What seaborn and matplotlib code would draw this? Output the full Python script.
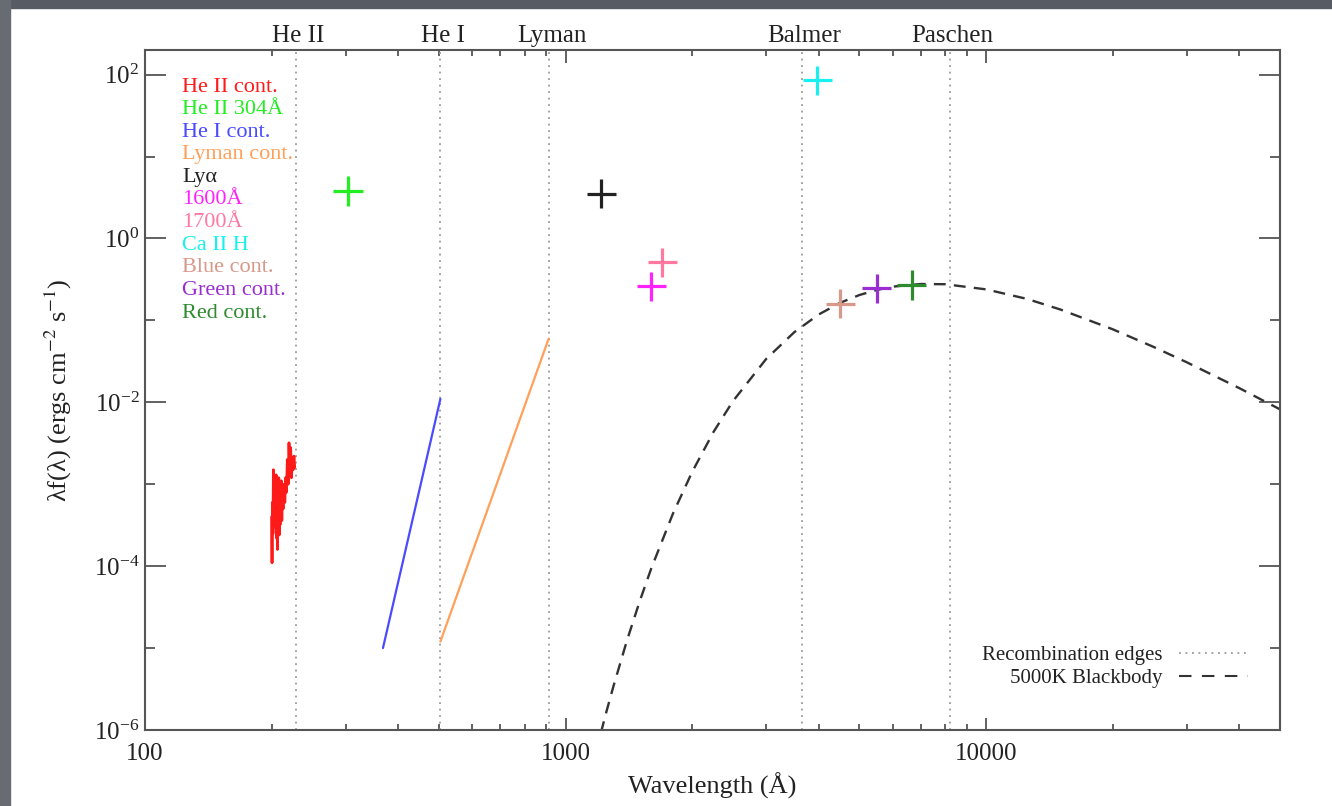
import numpy as np
import pandas as pd
import matplotlib
matplotlib.use("Agg")
import matplotlib.pyplot as plt
import seaborn as sns
from matplotlib.ticker import FixedLocator, LogLocator, NullFormatter, FuncFormatter, LogFormatterMathtext
from matplotlib.lines import Line2D
from matplotlib.patches import Rectangle

# ---------------- data ----------------
edge_names = ["He II", "He I", "Lyman", "Balmer", "Paschen"]
edge_wl = [228, 504, 912, 3646, 8204]

heii_cont_wl = [200.0, 200.5, 201.0, 201.5, 202.0, 202.5, 203.0, 203.5, 204.0, 204.5,
                205.0, 205.5, 206.0, 206.5, 207.0, 207.5, 208.0, 208.5, 209.0, 209.5,
                210.0, 210.5, 211.0, 211.5, 212.0, 213.0, 214.0, 215.0, 216.0, 217.0,
                218.0, 219.0, 220.0, 221.0, 222.0, 223.0, 224.0, 225.0, 226.0, 227.0]
heii_cont_flux = [4.0e-4, 1.1e-4, 6.0e-4, 2.5e-4, 1.5e-3, 3.0e-4, 8.0e-4, 4.0e-4, 1.0e-3, 3.5e-4,
                  1.3e-3, 2.2e-4, 6.0e-4, 1.6e-4, 9.0e-4, 3.0e-4, 1.2e-3, 2.4e-4, 7.0e-4, 3.2e-4,
                  9.0e-4, 4.0e-4, 1.1e-3, 3.6e-4, 8.0e-4, 5.0e-4, 1.0e-3, 6.0e-4, 1.2e-3, 8.0e-4,
                  2.0e-3, 1.0e-3, 3.2e-3, 1.4e-3, 2.8e-3, 1.2e-3, 2.0e-3, 1.5e-3, 2.2e-3, 1.6e-3]

hei_cont_wl = [368, 504]
hei_cont_flux = [1.0e-5, 1.1e-2]

lyman_cont_wl = [504, 912]
lyman_cont_flux = [1.2e-5, 6.0e-2]

point_names = ["He II 304Å", "Lyα", "1600Å", "1700Å", "Ca II H",
               "Blue cont.", "Green cont.", "Red cont."]
point_wl = [304, 1216, 1600, 1700, 3968, 4500, 5500, 6650]
point_flux = [3.8, 3.5, 0.26, 0.51, 85.0, 0.16, 0.245, 0.27]

bb_wl = [1150, 1200, 1250, 1300, 1400, 1500, 1600, 1800, 2000, 2250, 2500, 3000,
         3500, 4000, 4500, 5000, 5500, 6000, 7000, 8000, 10000, 12500, 15000,
         20000, 25000, 30000, 40000, 50000]
bb_flux = [3.1e-7, 7.4e-7, 1.65e-6, 3.42e-6, 1.24e-5, 3.69e-5, 9.46e-5, 4.36e-4,
           1.41e-3, 4.37e-3, 1.03e-2, 3.38e-2, 7.18e-2, 0.118, 0.164, 0.204, 0.235,
           0.258, 0.278, 0.276, 0.239, 0.183, 0.136, 0.0779, 0.0475, 0.0308, 0.0149, 0.0082]

label_names = ["He II cont.", "He II 304Å", "He I cont.", "Lyman cont.", "Lyα", "1600Å",
               "1700Å", "Ca II H", "Blue cont.", "Green cont.", "Red cont."]
label_colors = ["#ff1a1a", "#22ee22", "#4a4aff", "#ffa05a", "#222222", "#ff22ff",
                "#ff78a0", "#18f0f0", "#d8988a", "#9a2ed0", "#2e8b2e"]
color_of = dict(zip(label_names, label_colors))

# ---------------- style ----------------
sns.set_theme(style="ticks")
plt.rcParams["font.family"] = ["Liberation Serif", "DejaVu Serif"]
plt.rcParams["mathtext.fontset"] = "stix"

fig = plt.figure(figsize=(13.32, 8.06), dpi=100)
fig.patch.set_facecolor("white")
W, H = 1332, 806
fig.add_artist(Rectangle((0, 1 - 8 / H), 1, 8 / H, transform=fig.transFigure,
                         color="#575c64", zorder=0))
fig.add_artist(Rectangle((0, 0), 10 / W, 1, transform=fig.transFigure,
                         color="#676b72", zorder=0))

ax = fig.add_axes([145 / W, 1 - 730 / H, (1280 - 145) / W, (730 - 50) / H])
ax.set_facecolor("white")
ax.set_xscale("log")
ax.set_yscale("log")

# recombination edges
for wl, name in zip(edge_wl, edge_names):
    ax.axvline(wl, color="#9a9a9a", lw=1.3, ls=(0, (1, 2.6)), zorder=1)
    ax.text(wl * 1.015, 1.004, name, transform=ax.get_xaxis_transform(), ha="center",
            va="bottom", fontsize=18, color="#222222")

# blackbody
sns.lineplot(x=bb_wl, y=bb_flux, ax=ax, color="#333333", lw=1.7,
             linestyle=(0, (5, 3.5)), estimator=None, sort=False, zorder=2)

# continua
sns.lineplot(x=heii_cont_wl, y=heii_cont_flux, ax=ax, color=color_of["He II cont."],
             lw=2.0, estimator=None, sort=False, zorder=3)
sns.lineplot(x=hei_cont_wl, y=hei_cont_flux, ax=ax, color=color_of["He I cont."],
             lw=1.6, estimator=None, sort=False, zorder=3)
sns.lineplot(x=lyman_cont_wl, y=lyman_cont_flux, ax=ax, color=color_of["Lyman cont."],
             lw=1.6, estimator=None, sort=False, zorder=3)

# points
pts = pd.DataFrame({"name": point_names, "wl": point_wl, "flux": point_flux})
sns.scatterplot(data=pts, x="wl", y="flux", hue="name",
                palette={n: color_of[n] for n in point_names},
                marker="+", s=440, linewidth=2.3, legend=False, ax=ax, zorder=4)

# colored labels list
for i, (name, col) in enumerate(zip(label_names, label_colors)):
    ax.text((182 - 145) / 1135, 1 - (87 - 50 + i * 22.6) / 680, name,
            transform=ax.transAxes, ha="left", va="center", fontsize=16, color=col)

ax.set_xlim(100, 50000)
ax.set_ylim(1e-6, 10 ** 2.3)

ax.xaxis.set_major_locator(FixedLocator([100, 1000, 10000]))
ax.xaxis.set_minor_locator(LogLocator(base=10, subs=np.arange(2, 10)))
ax.xaxis.set_major_formatter(FuncFormatter(lambda v, p: f"{v:.0f}"))
ax.xaxis.set_minor_formatter(NullFormatter())
ax.yaxis.set_major_locator(FixedLocator([1e-6, 1e-4, 1e-2, 1e0, 1e2]))
ax.yaxis.set_minor_locator(FixedLocator([1e-5, 1e-3, 1e-1, 1e1]))
ax.yaxis.set_major_formatter(LogFormatterMathtext())
ax.yaxis.set_minor_formatter(NullFormatter())

ax.tick_params(which="both", direction="in", top=True, right=True, width=1.3,
               color="#555555", labelsize=18, labelcolor="#222222")
ax.tick_params(axis="x", which="major", length=9, pad=9)
ax.tick_params(axis="x", which="minor", length=4.5)
ax.tick_params(axis="y", which="major", length=15, pad=4)
ax.tick_params(axis="y", which="minor", length=7.5)
for s in ax.spines.values():
    s.set_linewidth(1.5)
    s.set_color("#555555")

ax.set_xlabel("Wavelength (Å)", fontsize=19, color="#222222", labelpad=6)
ax.set_ylabel(r"λf(λ) (ergs cm$^{-2}$ s$^{-1}$)", fontsize=19, color="#222222",
              labelpad=14)

handles = [Line2D([], [], color="#9a9a9a", lw=1.3, ls=(0, (1, 2.6))),
           Line2D([], [], color="#333333", lw=1.5, ls=(0, (6, 5)))]
ax.legend(handles, ["Recombination edges", "5000K Blackbody"], loc="lower right",
          bbox_to_anchor=(1 - (1280 - 1248) / 1135, (730 - 688) / 680),
          markerfirst=False, frameon=False, fontsize=15, handlelength=3.3,
          handletextpad=0.8, labelspacing=0.15, borderpad=0, borderaxespad=0,
          labelcolor="#222222")

fig.savefig("out.png", dpi=100)
